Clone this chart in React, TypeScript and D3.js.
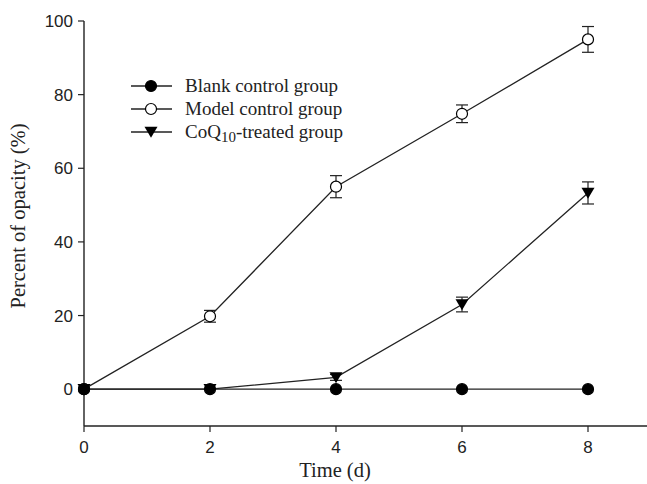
import React from 'react';
import * as d3 from 'd3';

const days = [0, 2, 4, 6, 8];
const blank = [0, 0, 0, 0, 0];
const blankErr = [0, 0, 0, 0, 0];
const model = [0, 19.8, 55, 74.8, 95];
const modelErr = [0, 1.6, 3, 2.4, 3.5];
const coq = [0, 0, 3.2, 23, 53.3];
const coqErr = [0, 0, 0.8, 2, 3];
const xTicks = [0, 2, 4, 6, 8];
const yTicks = [0, 20, 40, 60, 80, 100];
const legendLabels = ['Blank control group', 'Model control group', 'CoQ10-treated group'];

const W = 647;
const H = 484;
const SANS = 'Liberation Sans, Arial, sans-serif';
const SERIF = 'Liberation Serif, Times New Roman, serif';

const App = () => {
  const x = d3.scaleLinear().domain([0, 9]).range([84, 651]);
  const y = d3.scaleLinear().domain([-10, 100]).range([426, 21]);

  const line = d3.line<number>()
    .x((_, i) => x(days[i]))
    .y(d => y(d));

  const series = [
    { vals: blank, err: blankErr, kind: 'filled' },
    { vals: model, err: modelErr, kind: 'open' },
    { vals: coq, err: coqErr, kind: 'tri' },
  ];

  const marker = (kind: string, cx: number, cy: number, key: string) => {
    if (kind === 'tri') {
      const s = 6.5;
      return (
        <path key={key}
          d={`M${cx - s},${cy - s * 0.8} L${cx + s},${cy - s * 0.8} L${cx},${cy + s * 0.9} Z`}
          fill="#000" />
      );
    }
    return (
      <circle key={key} cx={cx} cy={cy} r={5.5}
        fill={kind === 'open' ? '#fff' : '#000'} stroke="#000" strokeWidth={1.2} />
    );
  };

  const x0 = x(0);
  const yb = y(-10);

  return (
    <svg width={W} height={H} style={{ position: 'absolute', left: 0, top: 0, background: '#fff' }}>
      {/* axes */}
      <line x1={x0} x2={x0} y1={y(100)} y2={yb} stroke="#222" strokeWidth={1.4} />
      <line x1={x0} x2={x(9)} y1={yb} y2={yb} stroke="#222" strokeWidth={1.4} />
      {yTicks.map(t => (
        <g key={'y' + t}>
          <line x1={x0 - 6} x2={x0} y1={y(t)} y2={y(t)} stroke="#222" strokeWidth={1.2} />
          <text x={x0 - 11} y={y(t)} dy="0.36em" textAnchor="end"
            fontFamily={SANS} fontSize={17} fill="#222">{t}</text>
        </g>
      ))}
      {xTicks.map(t => (
        <g key={'x' + t}>
          <line x1={x(t)} x2={x(t)} y1={yb} y2={yb + 6} stroke="#222" strokeWidth={1.2} />
          <text x={x(t)} y={yb + 27} textAnchor="middle"
            fontFamily={SANS} fontSize={17} fill="#222">{t}</text>
        </g>
      ))}
      <text x={335} y={477} textAnchor="middle"
        fontFamily={SERIF} fontSize={20.5} fill="#222">Time (d)</text>
      <text transform={`translate(25,216) rotate(-90)`} textAnchor="middle"
        fontFamily={SERIF} fontSize={20.5} fill="#222">Percent of opacity (%)</text>

      {/* lines */}
      {series.map((s, si) => (
        <path key={'l' + si} d={line(s.vals) || ''} fill="none" stroke="#222" strokeWidth={1.3} />
      ))}
      {/* error bars */}
      {series.map((s, si) => s.vals.map((v, i) => {
        const e = s.err[i];
        if (!e) return null;
        const cx = x(days[i]);
        return (
          <g key={`e${si}-${i}`} stroke="#222" strokeWidth={1.2}>
            <line x1={cx} x2={cx} y1={y(v + e)} y2={y(v - e)} />
            <line x1={cx - 6} x2={cx + 6} y1={y(v + e)} y2={y(v + e)} />
            <line x1={cx - 6} x2={cx + 6} y1={y(v - e)} y2={y(v - e)} />
          </g>
        );
      }))}
      {/* markers */}
      {[2, 1, 0].map(si => series[si].vals.map((v, i) =>
        marker(series[si].kind, x(days[i]), y(v), `m${si}-${i}`)))}

      {/* legend */}
      {series.map((s, si) => {
        const ly = 86 + si * 23;
        return (
          <g key={'lg' + si}>
            <line x1={131} x2={172} y1={ly} y2={ly} stroke="#222" strokeWidth={1.3} />
            {marker(s.kind, 151, ly, 'lm' + si)}
            <text x={185} y={ly} dy="0.33em"
              fontFamily={SERIF} fontSize={19} fill="#222">
              {si === 2
                ? <>CoQ<tspan fontSize={15} dy="4">10</tspan><tspan dy="-4">-treated group</tspan></>
                : legendLabels[si]}
            </text>
          </g>
        );
      })}
    </svg>
  );
};

export default App;
